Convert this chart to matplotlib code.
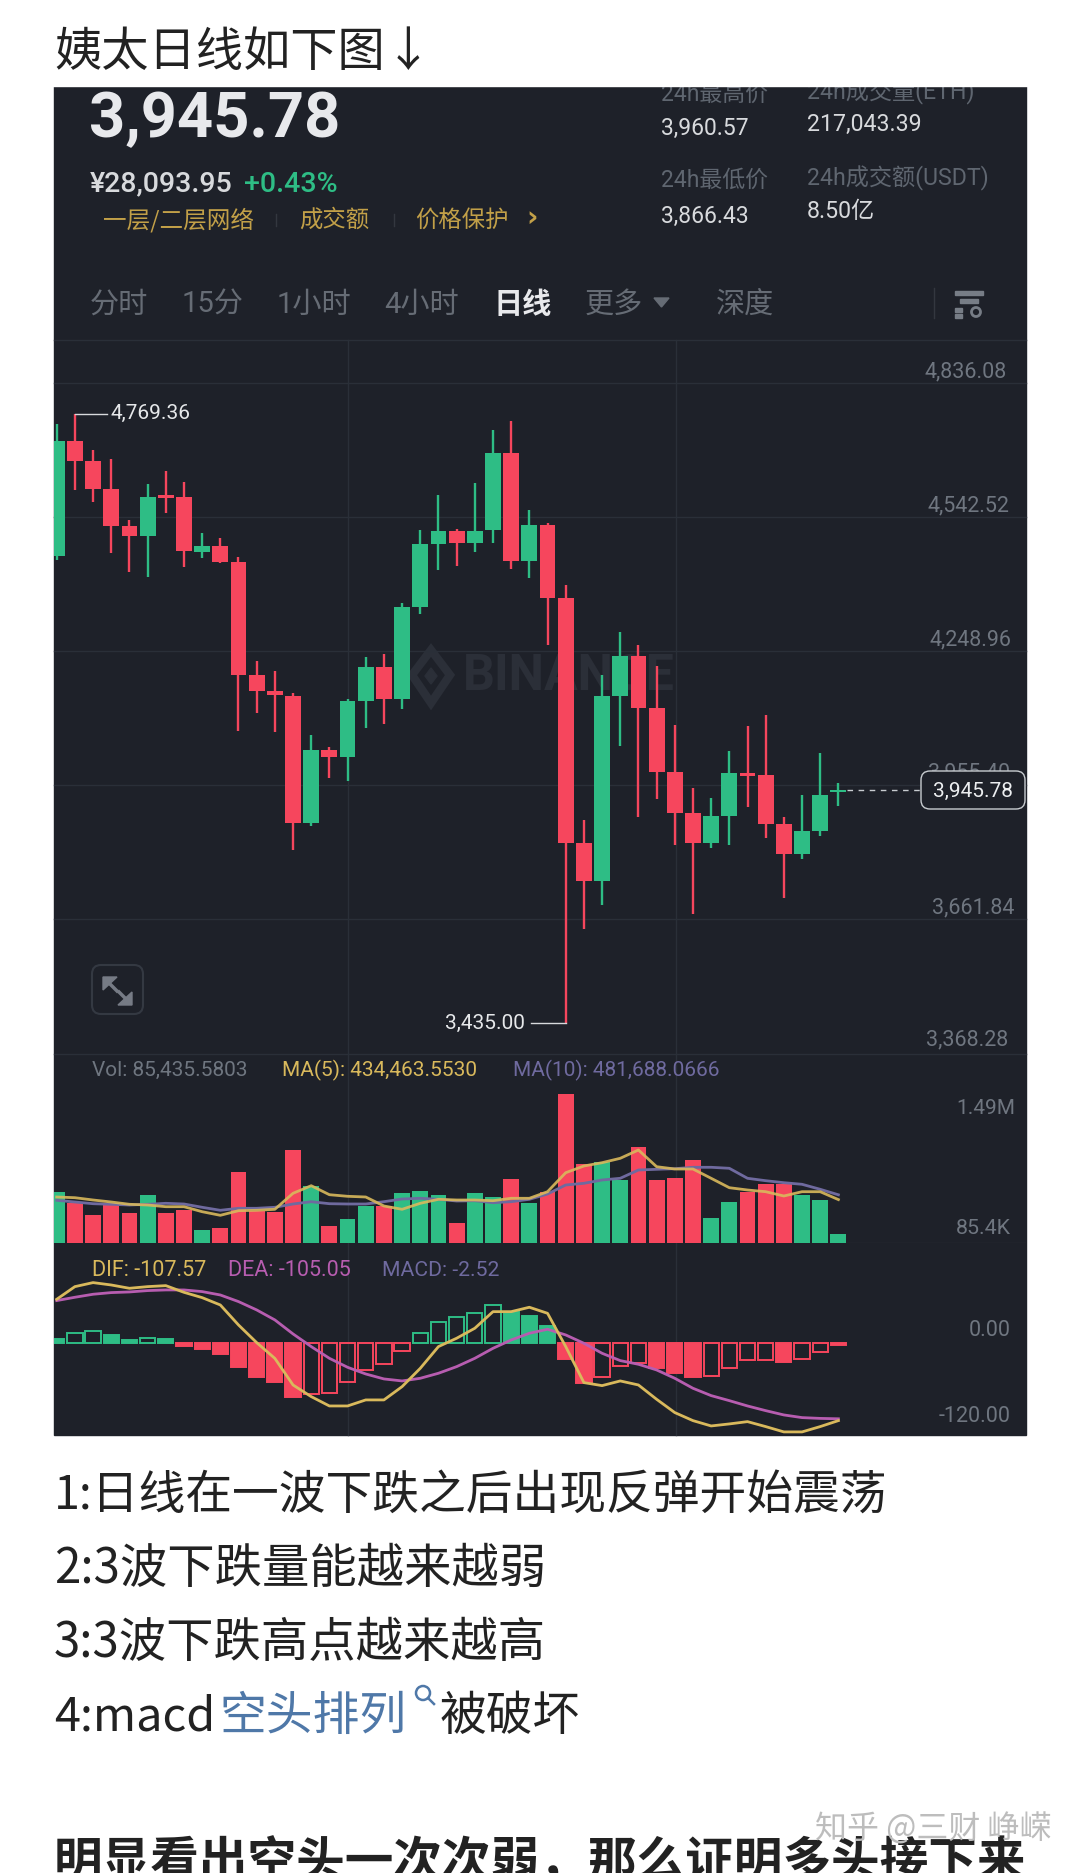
import matplotlib
matplotlib.use('Agg')
import matplotlib.pyplot as plt
from matplotlib.patches import Rectangle, FancyBboxPatch, Circle, Polygon

# candles
opens = [4458, 4711, 4666, 4604, 4524, 4501, 4592, 4587, 4467, 4480, 4444, 4198, 4162, 4152, 3873, 4032, 4017, 4140, 4214, 4144, 4346, 4484, 4513, 4487, 4514, 4683, 4447, 4525, 4367, 3829, 3747, 4152, 4240, 4124, 3985, 3894, 3830, 3888, 3983, 3978, 3872, 3805, 3856, 3940]
closes = [4711, 4667, 4604, 4524, 4501, 4588, 4584, 4468, 4480, 4444, 4198, 4163, 4154, 3873, 4032, 4017, 4140, 4214, 4144, 4346, 4485, 4513, 4487, 4513, 4683, 4447, 4525, 4367, 3829, 3747, 4152, 4240, 4124, 3985, 3894, 3830, 3888, 3982, 3977, 3872, 3805, 3856, 3934, 3945.78]
highs = [4747, 4769.36, 4691, 4670, 4537, 4616, 4644, 4620, 4508, 4497, 4455, 4228, 4207, 4159, 4067, 4039, 4144, 4236, 4244, 4354, 4516, 4592, 4518, 4618, 4735, 4754, 4558, 4531, 4394, 3879, 4197, 4292, 4263, 4218, 4087, 3950, 3928, 4031, 4086, 4109, 3887, 3935, 4026, 3960.57]
lows = [4450, 4603, 4576, 4465, 4423, 4411, 4552, 4434, 4453, 4442, 4075, 4114, 4072, 3814, 3866, 3972, 3965, 4081, 4090, 4122, 4332, 4427, 4437, 4466, 4487, 4430, 4409, 4263, 3435, 3641, 3694, 4042, 3887, 3925, 3824, 3673, 3818, 3825, 3908, 3840, 3709, 3794, 3845, 3911]
# volume in thousands
vol = [507, 403, 280, 397, 297, 477, 297, 330, 127, 153, 707, 317, 313, 930, 570, 173, 240, 373, 370, 503, 523, 483, 200, 503, 463, 637, 403, 507, 1490, 787, 813, 630, 963, 630, 647, 830, 253, 407, 513, 590, 590, 477, 427, 85.4]
ma5 = [460, 453, 430, 410, 387, 380, 363, 363, 313, 277, 323, 327, 337, 497, 573, 483, 467, 460, 370, 337, 397, 437, 430, 430, 423, 447, 447, 513, 703, 770, 803, 847, 930, 763, 740, 740, 647, 553, 530, 513, 470, 513, 513, 434]
ma10 = [427, 410, 393, 387, 380, 387, 397, 390, 357, 327, 347, 347, 357, 390, 413, 393, 390, 390, 413, 440, 447, 437, 420, 423, 403, 413, 437, 490, 580, 597, 630, 647, 730, 737, 743, 757, 757, 747, 647, 623, 603, 587, 537, 482]
# macd panel
dif = [61.2, 78.8, 84.4, 81.1, 76.5, 78.8, 80.2, 70.9, 63.5, 53.3, 25.5, 0.9, -21, -58, -74.2, -87.2, -87.2, -78.8, -78.8, -60.3, -34.8, -4.6, 7, 20.9, 44, 44, 50.1, 41.7, -4.6, -54.7, -58.9, -52.4, -58, -77.9, -96.4, -107.6, -115, -112.2, -109, -115.9, -123.3, -123.3, -115.9, -107.57]
dea = [59.4, 64, 68.2, 70.5, 71.4, 73.3, 74.2, 74.2, 71.9, 67.2, 58, 46.4, 32.5, 13, -4.6, -20.9, -33.4, -42.7, -49.6, -52.4, -48.7, -41.7, -32.5, -20.9, -7, 4.6, 13.9, 19.5, 11.6, 0, -13.9, -24.1, -29.2, -37.1, -48.7, -62.6, -72.8, -79.8, -87.2, -93.7, -99.7, -103.4, -104.5, -105.05]
hist = [5.6, 14.8, 17.6, 11.6, 5.1, 7, 5.6, -3.7, -8.3, -14.4, -33.4, -46.8, -54.3, -74.2, -70.9, -69.1, -54.3, -37.6, -28.7, -10.2, 13.9, 29.7, 37.1, 41.7, 53.3, 43.1, 38.5, 24.1, -22.3, -54.7, -47.3, -31.1, -27.8, -34.8, -41.7, -47.3, -45.4, -34.8, -23.6, -23.6, -25.5, -21.3, -11.6, -2.52]
hollow = [0, 1, 1, 0, 0, 1, 0, 0, 0, 0, 0, 0, 0, 0, 1, 1, 1, 1, 1, 1, 1, 1, 1, 1, 1, 0, 0, 0, 0, 0, 1, 1, 1, 0, 0, 0, 1, 1, 1, 1, 0, 1, 1, 0]

price_ticks = [4836.08, 4542.52, 4248.96, 3955.40, 3661.84, 3368.28]

BG = '#1e2129'
GRID = '#2a2f38'
GREEN = '#2ebd85'
RED = '#f6465d'
GRAY = '#6f7680'
YELLOW = '#d9b95c'
PURPLE = '#6f6a9f'
PINK = '#b75db0'
BLUE = '#4f78a8'
CJK = ['Noto Sans CJK SC', 'DejaVu Sans']
NUM = ['Roboto', 'Noto Sans CJK SC', 'DejaVu Sans']

W, H = 1080, 1873
x = list(range(len(closes)))
xlim = (-0.149, 53.32)


def make_ax(top, bottom):
    a = fig.add_axes([54 / W, 1 - bottom / H, 972 / W, (bottom - top) / H], zorder=1)
    a.patch.set_alpha(0)
    a.set_xlim(xlim)
    a.set_xticks([])
    a.set_yticks([])
    for s in a.spines.values():
        s.set_visible(False)
    return a


def put(s, px, py, size, color, ha='left', fam=NUM, weight='normal', z=5, **kw):
    return top.text(px, py, s, fontsize=size, color=color, ha=ha, va='center',
                    family=fam, fontweight=weight, zorder=z, **kw)


fig = plt.figure(figsize=(W / 100, H / 100), dpi=100, facecolor='white')

back = fig.add_axes([0, 0, 1, 1], zorder=0)
back.set_xlim(0, W)
back.set_ylim(H, 0)
back.axis('off')
back.add_patch(Rectangle((54, 86), 972, 1349, color=BG))

# watermark
back.add_patch(Polygon([(431, 650), (450, 675), (431, 703), (412, 675)], closed=True, fill=False, ec='#2b2f38', lw=6))
back.add_patch(Polygon([(431, 668), (437, 676), (431, 684), (425, 676)], closed=True, color='#2b2f38'))
back.text(463, 676, 'BINANCE', fontsize=36, color='#2b2f38', fontweight='bold', family='Roboto', va='center')
for vx in [347.7, 675.9]:
    back.plot([vx, vx], [340, 1435], color=GRID, lw=1)
back.plot([54, 1026], [340, 340], color=GRID, lw=1)

# price panel
ax = make_ax(340, 1053.5)
ax.set_ylim(3368.28, 4931.18)
for p in price_ticks:
    ax.axhline(p, color=GRID, lw=1, zorder=0, clip_on=False)
colors = [GREEN if c >= o else RED for o, c in zip(opens, closes)]
ax.vlines(x, lows, highs, colors=colors, lw=1.7, zorder=2)
bottoms = [min(o, c) for o, c in zip(opens, closes)]
heights = [abs(c - o) for o, c in zip(opens, closes)]
ax.bar(x, heights, bottom=bottoms, width=0.87, color=colors, zorder=3)
ax.plot([1, 2.75], [highs[1], highs[1]], color='#d8dadd', lw=1, zorder=4)
ax.text(2.95, highs[1], '4,769.36', color='#e6e8ea', fontsize=15, va='center', family=NUM)
ax.plot([26.1, 28], [lows[28], lows[28]], color='#d8dadd', lw=1, zorder=4)
ax.text(25.75, lows[28], '3,435.00', color='#e6e8ea', fontsize=15, va='center', ha='right', family=NUM)
ax.plot([43.5, 47.55], [closes[-1], closes[-1]], color='#c8ccd0', lw=1, ls=(0, (4, 4)), zorder=2)

# volume panel
ax_vol = make_ax(1053.5, 1243)
ax_vol.set_ylim(0, 1895)
ax_vol.bar(x, vol, width=0.87, color=colors, zorder=2)
ax_vol.plot(x, ma10, color=PURPLE, lw=2, zorder=3)
ax_vol.plot(x, ma5, color=YELLOW, lw=2, zorder=4, alpha=0.9)
ax_vol.axhline(0, color=GRID, lw=1, zorder=1)

# macd panel
ax_macd = make_ax(1243, 1435)
ax_macd.set_ylim(-127.6, 139.5)
for i, h in enumerate(hist):
    c = GREEN if h >= 0 else RED
    ax_macd.bar(i, h, width=0.84, facecolor='none' if hollow[i] else c, edgecolor=c, lw=1.4, zorder=2)
ax_macd.plot(x, dea, color=PINK, lw=2, zorder=3)
ax_macd.plot(x, dif, color=YELLOW, lw=2, zorder=4)

# all the text and little furniture, in picture pixels
top = fig.add_axes([0, 0, 1, 1], zorder=2)
top.patch.set_alpha(0)
top.set_xlim(0, W)
top.set_ylim(H, 0)
top.axis('off')

put('3,945.78', 89, 120, 45.5, '#e8e9ec', weight='bold')
put('¥28,093.95', 90, 184, 20.5, '#d8dadd', weight='medium')
put('+0.43%', 244, 184, 20.5, GREEN, weight='medium')
put('一层/二层网络', 103, 220, 17, '#c2a048', fam=CJK)
put('成交额', 299, 220, 16.8, '#c2a048', fam=CJK)
put('价格保护', 415, 220, 16.8, '#c2a048', fam=CJK)
put('›', 532, 218, 20, '#c2a048', ha='center', fam=['DejaVu Sans'], weight='bold')
for sx in [276, 394]:
    top.plot([sx, sx], [214, 226], color='#33373f', lw=1)

put('24h最高价', 661, 94, 16.5, '#5f6670', fam=NUM, z=2)
put('24h成交量(ETH)', 807, 92, 16.7, '#5f6670', fam=NUM, z=2)
put('3,960.57', 661, 128, 16.5, '#d8dadd')
put('217,043.39', 807, 124, 16.7, '#d8dadd')
put('24h最低价', 661, 180, 16.5, '#5f6670', fam=NUM)
put('24h成交额(USDT)', 807, 178, 16.7, '#5f6670', fam=NUM)
put('3,866.43', 661, 216, 16.5, '#d8dadd')
put('8.50亿', 807, 211, 16.7, '#d8dadd', fam=NUM)
top.add_patch(Rectangle((0, 0), W, 86, color='white', zorder=3))

tabs = ['分时', '15分', '1小时', '4小时', '日线', '更多', '深度']
tab_x = [90, 182, 277, 384, 494, 585, 716]
for t, tx in zip(tabs, tab_x):
    on = t == '日线'
    put(t, tx, 305, 21, '#e8e9ec' if on else '#666c75', fam=NUM, weight='bold' if on else 'normal')
top.add_patch(Polygon([(654, 298), (669, 298), (661.5, 307)], closed=True, color='#666c75', zorder=5))
top.plot([934, 934], [288, 318], color='#33373f', lw=1)
top.add_patch(Rectangle((955, 291), 28, 3.5, color='#777d86', zorder=5))
top.add_patch(Rectangle((960, 299), 18, 3.5, color='#777d86', zorder=5))
top.add_patch(Rectangle((955, 308), 7, 3.5, color='#777d86', zorder=5))
top.add_patch(Rectangle((955, 314), 7, 3.5, color='#777d86', zorder=5))
top.add_patch(Circle((976, 312), 4.5, fill=False, ec='#777d86', lw=2, zorder=5))

# y labels
label_pos = [(1007, 372), (1009, 506), (1012, 640), (1010, 773), (1014, 908), (1008, 1040)]
for p, (lx, ly) in zip(price_ticks, label_pos):
    put(f'{p:,.2f}', lx, ly, 15.5, GRAY, ha='right', z=4)
top.add_patch(FancyBboxPatch((921, 771), 104, 38, boxstyle='round,pad=0,rounding_size=9', fc=BG, ec='#c8ccd0', lw=1, zorder=4.5))
put('3,945.78', 973, 791, 15, '#eceef0', ha='center', z=6)

# expand button
ARROW = '#767b85'
top.add_patch(FancyBboxPatch((92, 965), 51, 49, boxstyle='round,pad=0,rounding_size=9', fill=False, ec='#343942', lw=1.5, zorder=5))
top.add_patch(Polygon([(103, 977), (117, 977), (103, 990)], closed=True, color=ARROW, zorder=5))
top.add_patch(Polygon([(132, 1005), (118, 1005), (132, 992)], closed=True, color=ARROW, zorder=5))
top.plot([108, 117], [982, 991], color=ARROW, lw=2.5, zorder=5)
top.plot([127, 119], [1000, 992], color=ARROW, lw=2.5, zorder=5)

# indicator headers
put('Vol: 85,435.5803', 92, 1070, 15, GRAY)
put('MA(5): 434,463.5530', 282, 1070, 15, YELLOW)
put('MA(10): 481,688.0666', 513, 1070, 15, PURPLE)
put('1.49M', 1015, 1108, 15, GRAY, ha='right')
put('85.4K', 1011, 1229, 15.4, GRAY, ha='right')
put('DIF: -107.57', 92, 1270, 15.5, YELLOW)
put('DEA: -105.05', 228, 1270, 15.5, PINK)
put('MACD: -2.52', 382, 1270, 15.2, PURPLE)
put('0.00', 1011, 1331, 15.5, GRAY, ha='right')
put('-120.00', 1011, 1417, 15.5, GRAY, ha='right')

# text around the chart
INK = '#222222'
put('姨太日线如下图↓', 54, 53, 34, INK, fam=CJK)
put('1:日线在一波下跌之后出现反弹开始震荡', 54, 1496, 33.7, INK, fam=CJK)
put('2:3波下跌量能越来越弱', 54, 1569, 34.1, INK, fam=CJK)
put('3:3波下跌高点越来越高', 54, 1643, 34.1, INK, fam=CJK)
put('4:macd', 54, 1717, 33.7, INK, fam=CJK)
put('空头排列', 219, 1717, 33.7, BLUE, fam=CJK)
top.add_patch(Circle((423, 1693), 7, fill=False, ec=BLUE, lw=1.8, zorder=5))
top.plot([428, 434], [1698, 1704], color=BLUE, lw=1.8, zorder=5)
put('被破坏', 440, 1717, 33.7, INK, fam=CJK)
put('明显看出空头一次次弱，那么证明多头接下来', 54, 1863, 35, INK, fam=CJK, weight='bold')
put('知乎 @三财 峥嵘', 815, 1829, 23, '#bdbdbd', fam=CJK, z=6)

fig.savefig('out.png', dpi=100, facecolor='white')
